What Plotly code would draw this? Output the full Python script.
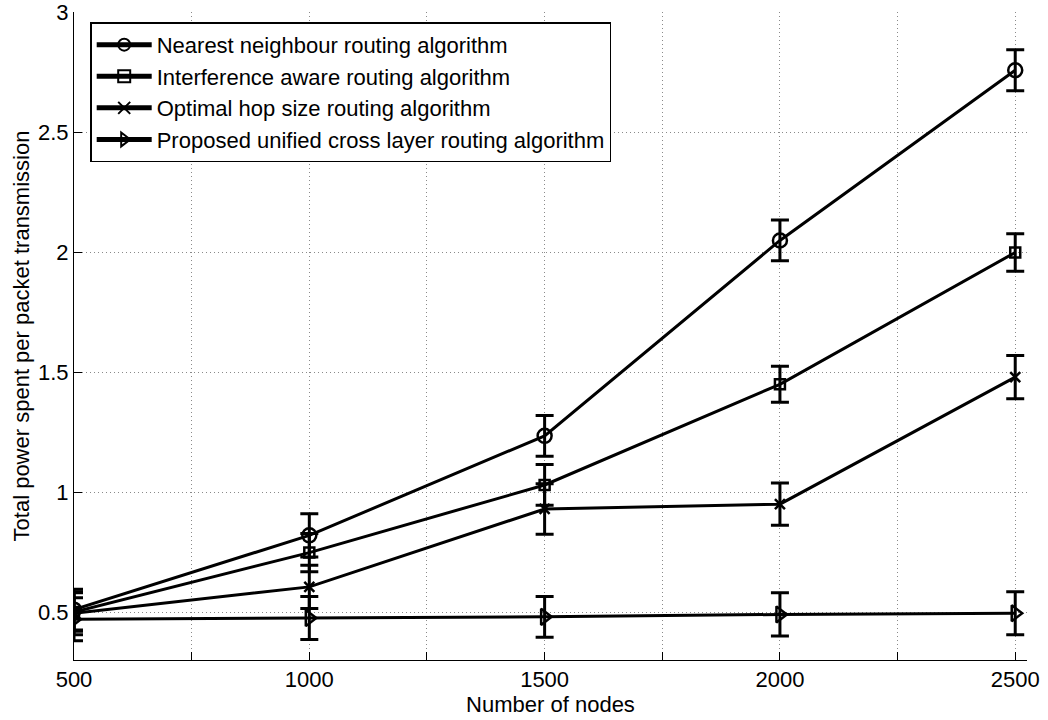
import plotly.graph_objects as go

nodes = [500, 1000, 1500, 2000, 2500]

nearest = [0.51, 0.82, 1.235, 2.05, 2.76]
nearest_err = [0.085, 0.09, 0.085, 0.085, 0.086]

interference = [0.50, 0.748, 1.03, 1.45, 2.0]
interference_err = [0.08, 0.08, 0.085, 0.075, 0.078]

optimal = [0.495, 0.605, 0.93, 0.95, 1.48]
optimal_err = [0.09, 0.09, 0.105, 0.088, 0.09]

proposed = [0.47, 0.475, 0.48, 0.49, 0.495]
proposed_err = [0.09, 0.09, 0.085, 0.09, 0.09]

names = [
    "Nearest neighbour routing algorithm",
    "Interference aware routing algorithm",
    "Optimal hop size routing algorithm",
    "Proposed unified cross layer routing algorithm",
]
symbols = ["circle-open", "square-open", "x-thin-open", "triangle-right-open"]
sizes = [14, 10, 10, 14]

series = [(nearest, nearest_err), (interference, interference_err),
          (optimal, optimal_err), (proposed, proposed_err)]

x_tickvals = [500, 750, 1000, 1250, 1500, 1750, 2000, 2250, 2500]
x_ticktext = ["500", "", "1000", "", "1500", "", "2000", "", "2500"]
y_tickvals = [0.5, 1, 1.5, 2, 2.5, 3]
y_ticktext = ["0.5", "1", "1.5", "2", "2.5", "3"]

FONT = "Liberation Sans, Arial, sans-serif"
FS = 22

fig = go.Figure()
for (vals, errs), name, sym, sz in zip(series, names, symbols, sizes):
    fig.add_trace(go.Scatter(
        x=nodes, y=vals, name=name, mode="lines+markers",
        line=dict(color="black", width=3),
        marker=dict(symbol=sym, size=sz, color="black",
                    line=dict(color="black", width=2.5)),
        error_y=dict(type="data", array=errs, visible=True,
                     color="black", thickness=3, width=9),
    ))

fig.update_layout(
    width=1048, height=720,
    margin=dict(l=74, r=21, t=12, b=60, autoexpand=False),
    paper_bgcolor="white", plot_bgcolor="white",
    font=dict(family=FONT, size=FS, color="black"),
    showlegend=True,
    legend=dict(
        x=0.017, y=0.984, xanchor="left", yanchor="top",
        bgcolor="white", bordercolor="black", borderwidth=1.5,
        font=dict(family=FONT, size=FS, color="black"),
        tracegroupgap=0, itemsizing="constant", itemwidth=55,
    ),
)

grid_kw = dict(showgrid=True, gridcolor="#8a8a8a", griddash="1px,3px", gridwidth=1)

fig.update_xaxes(
    range=[500, 2525], tickmode="array", tickvals=x_tickvals, ticktext=x_ticktext,
    ticks="inside", ticklen=8, tickcolor="black", tickwidth=1,
    showline=True, linecolor="black", linewidth=1, mirror=False,
    zeroline=False, ticklabeloverflow="allow", automargin=False, **grid_kw,
    title=dict(text="Number of nodes", font=dict(size=FS), standoff=0),
    tickfont=dict(size=FS),
)
fig.update_yaxes(
    range=[0.3, 3.003], tickmode="array", tickvals=y_tickvals, ticktext=y_ticktext,
    ticks="inside", ticklen=8, tickcolor="black", tickwidth=1,
    showline=True, linecolor="black", linewidth=1, mirror=False,
    zeroline=False, ticklabeloverflow="allow", automargin=False, **grid_kw,
    title=dict(text="Total power spent per packet transmission", font=dict(size=FS), standoff=2),
    tickfont=dict(size=FS),
)

fig.write_html("out.html")
